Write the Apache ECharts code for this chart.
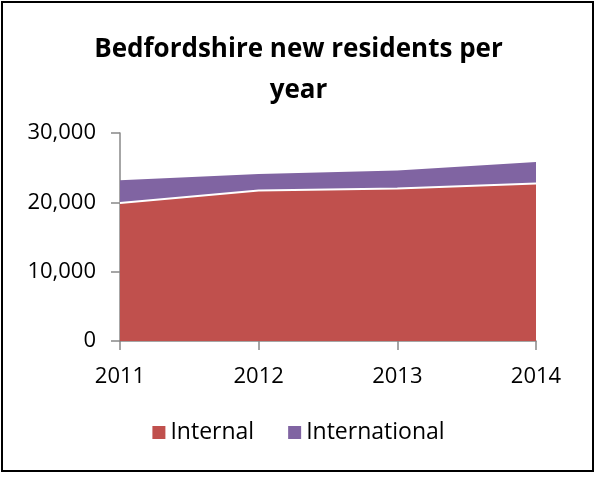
<html>
<head>
    <meta charset="utf-8">
    <title>ECharts</title>
    <script src="https://cdn.jsdelivr.net/npm/echarts@6/dist/echarts.min.js"></script>
    <style>
        body { margin: 0; background: #fff; }
        #frame { position: absolute; left: 1px; top: 1px; width: 593px; height: 471px; border: 2px solid #000; box-sizing: border-box; }
    </style>
</head>
<body>
    <div id="frame"></div>
    <div id="main" style="position:absolute;left:0;top:0;width: 597px;height:477px;"></div>
    <script type="text/javascript">
        var years = ['2011', '2012', '2013', '2014'];
        var internal = [19900, 21700, 22000, 22700];
        var international = [3300, 2400, 2600, 3100];
        var yTicks = [0, 10000, 20000, 30000];

        var myChart = echarts.init(document.getElementById('main'));
        var font = 'Open Sans, Liberation Sans, sans-serif';

        option = {
            animation: false,
            textStyle: { fontFamily: font },
            title: {
                text: 'Bedfordshire new residents per\nyear',
                left: 'center',
                top: 24,
                textStyle: { fontSize: 26, fontWeight: 'bold', color: '#000', lineHeight: 41, fontFamily: font }
            },
            legend: {
                top: 416,
                left: 'center',
                itemWidth: 13,
                itemHeight: 13,
                itemGap: 34,
                icon: 'rect',
                textStyle: { fontSize: 23, color: '#000', fontFamily: font },
                data: ['Internal', 'International']
            },
            grid: { left: 120, right: 61, top: 133, bottom: 136 },
            xAxis: {
                type: 'category',
                data: years,
                boundaryGap: false,
                axisLine: { lineStyle: { color: '#888', width: 1.5 } },
                axisTick: { length: 9, lineStyle: { color: '#888', width: 1.5 } },
                axisLabel: { fontSize: 22, color: '#000', margin: 25 }
            },
            yAxis: {
                type: 'value',
                min: yTicks[0],
                max: yTicks[yTicks.length - 1],
                interval: 10000,
                splitLine: { show: false },
                axisLine: { show: true, lineStyle: { color: '#888', width: 1.5 } },
                axisTick: { show: true, length: 9, lineStyle: { color: '#888', width: 1.5 } },
                axisLabel: {
                    fontSize: 22, color: '#000', margin: 24,
                    formatter: function (v) { return v.toLocaleString('en-US'); }
                }
            },
            series: [
                {
                    name: 'Internal',
                    type: 'line',
                    stack: 'total',
                    data: internal,
                    symbol: 'none',
                    itemStyle: { color: '#C0504D' },
                    lineStyle: { color: '#fff', width: 2 },
                    areaStyle: { color: '#C0504D', opacity: 1 },
                    z: 3
                },
                {
                    name: 'International',
                    type: 'line',
                    stack: 'total',
                    data: international,
                    symbol: 'none',
                    itemStyle: { color: '#8064A2' },
                    lineStyle: { color: '#8064A2', width: 0 },
                    areaStyle: { color: '#8064A2', opacity: 1 },
                    z: 2
                }
            ]
        };

        myChart.setOption(option);
    </script>
</body>
</html>
